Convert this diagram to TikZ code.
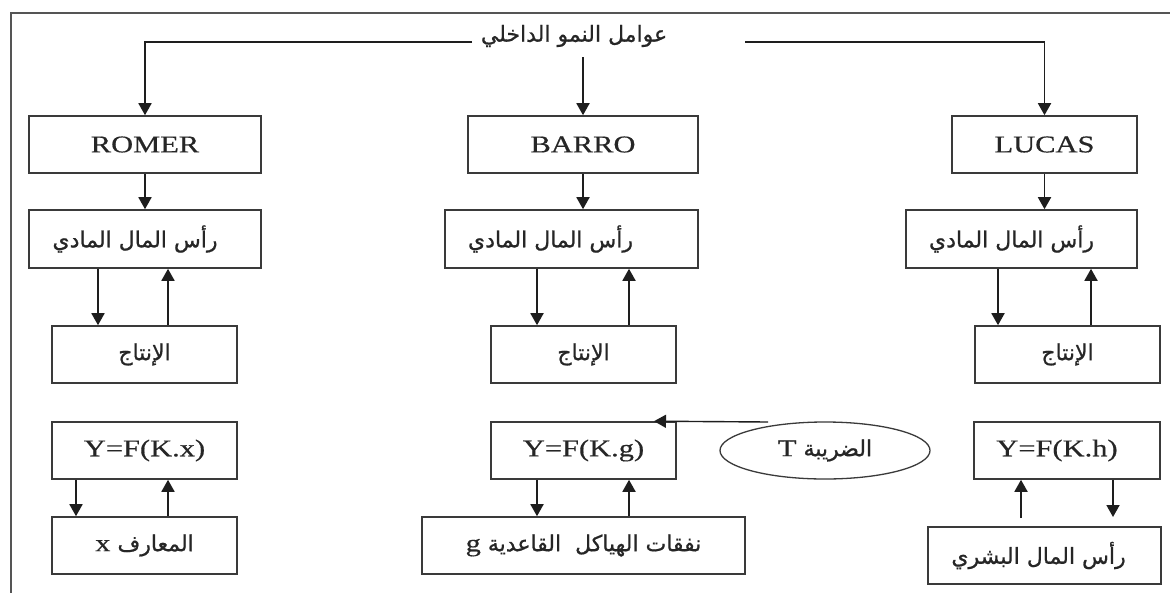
\documentclass[tikz,border=0pt]{standalone}
\usepackage{fontspec}
\usetikzlibrary{arrows.meta,shapes.geometric}
\setmainfont[FakeStretch=1.27]{Liberation Serif}
\newfontfamily\latinfont[FakeStretch=1.27,FakeBold=0.5]{Liberation Serif}
\newfontfamily\arabicfont[Script=Arabic,FakeBold=0.8]{DejaVu Sans}
\TeXXeTstate=1
\newcommand\myLat{\latinfont\fontsize{24}{28}\selectfont}
\newcommand\myAr{\arabicfont\fontsize{22}{26}\selectfont}
\definecolor{linec}{HTML}{1E1E1E}
\definecolor{boxc}{HTML}{3A3A3A}
\definecolor{framec}{HTML}{555555}
\definecolor{txt}{HTML}{262626}
\tikzset{
  box/.style={draw=boxc, line width=1.6pt, minimum height=57pt, inner sep=0pt, text=txt},
  arr/.style={draw=linec, line width=1.8pt, -{Triangle[length=12pt,width=13pt]}},
  lat/.style={font=\myLat},
  ar/.style={font=\myAr},
}
\begin{document}
\begin{tikzpicture}[x=1pt,y=-1pt]
\useasboundingbox (0,0) rectangle (1170,592);
\fill[white] (0,0) rectangle (1170,592);
% frame
\draw[draw=framec, line width=1.4pt] (1172,13) -- (11,13) -- (11,594);

% title
\node[ar, text=txt, inner sep=0pt] (title) at (574,36) {\beginR عوامل النمو الداخلي\endR};
\coordinate (tl) at (472,42);
\coordinate (tr) at (745,42);
\coordinate (tm) at (583,57);

% level 1
\node[box, lat, minimum width=232pt] (romer) at (145,144.5) {ROMER};
\node[box, lat, minimum width=230pt] (barro) at (583,144.5) {BARRO};
\node[box, lat, minimum width=185pt] (lucas) at (1044.5,144.5) {LUCAS};

\draw[arr] (tl) -| (romer.north);
\draw[arr] (tr) -| (lucas.north);
\draw[arr] (tm) -- (barro.north);

% level 2: physical capital
\node[box, ar, minimum width=232pt, minimum height=58pt] (cap1) at (145,239) {\beginR رأس المال المادي\endR\hspace*{20pt}};
\node[box, ar, minimum width=253pt, minimum height=58pt] (cap2) at (571.5,239) {\beginR رأس المال المادي\endR\hspace*{42pt}};
\node[box, ar, minimum width=231pt, minimum height=58pt] (cap3) at (1021.5,239) {\beginR رأس المال المادي\endR\hspace*{20pt}};

\draw[arr] (romer) -- (cap1);
\draw[arr] (barro) -- (barro.south |- cap2.north);
\draw[arr] (lucas) -- (lucas.south |- cap3.north);

% level 3: production
\node[box, ar, minimum width=185pt] (prod1) at (144.5,354.5) {\beginR الإنتاج\endR};
\node[box, ar, minimum width=185pt] (prod2) at (583.5,354.5) {\beginR الإنتاج\endR};
\node[box, ar, minimum width=185pt] (prod3) at (1067.5,354.5) {\beginR الإنتاج\endR};

\coordinate (xa) at (98,0);   \coordinate (xb) at (168,0);
\coordinate (xc) at (537,0);  \coordinate (xd) at (629,0);
\coordinate (xe) at (998,0);  \coordinate (xf) at (1091,0);
\draw[arr] (xa |- cap1.south) -- (xa |- prod1.north);
\draw[arr] (xb |- prod1.north) -- (xb |- cap1.south);
\draw[arr] (xc |- cap2.south) -- (xc |- prod2.north);
\draw[arr] (xd |- prod2.north) -- (xd |- cap2.south);
\draw[arr] (xe |- cap3.south) -- (xe |- prod3.north);
\draw[arr] (xf |- prod3.north) -- (xf |- cap3.south);

% level 4: production functions
\node[box, lat, minimum width=185pt] (y1) at (144.5,450.5) {Y=F(K.x)};
\node[box, lat, minimum width=185pt] (y2) at (583.5,450.5) {Y=F(K.g)};
\node[box, lat, minimum width=186pt] (y3) at (1067,450.5) {Y=F(K.h)\hspace*{20pt}};
\node[draw=boxc, line width=1.3pt, ellipse, minimum width=210pt, minimum height=57pt, inner sep=0pt, ar, text=txt] (tax) at (825,450.5) {\beginR الضريبة {\myLat T}\endR};

\coordinate (ts) at (768,422);
\coordinate (xt) at (654,0);
\draw[draw=linec, line width=1.4pt, -{Triangle[length=12pt,width=13pt]}] (ts) -- (xt |- y2.north);

% level 5
\node[box, ar, minimum width=185pt] (k1) at (144.5,545.5) {\beginR المعارف {\myLat x}\endR};
\node[box, ar, minimum width=323pt] (g) at (583.5,545.5) {\beginR نفقات الهياكل\ \ القاعدية {\myLat g}\endR};
\node[box, ar, minimum width=233pt] (h) at (1044.5,555.5) {\beginR رأس المال البشري\endR\hspace*{12pt}};

\coordinate (xg) at (76,0);   \coordinate (xh) at (168,0);
\coordinate (xi) at (537,0);  \coordinate (xj) at (629,0);
\coordinate (xk) at (1021,0); \coordinate (xl) at (1113,0);
\coordinate (hu) at (1021,518);
\coordinate (hd) at (1113,517);
\draw[arr] (xg |- y1.south) -- (xg |- k1.north);
\draw[arr] (xh |- k1.north) -- (xh |- y1.south);
\draw[arr] (xi |- y2.south) -- (xi |- g.north);
\draw[arr] (xj |- g.north) -- (xj |- y2.south);
\draw[arr] (hu) -- (xk |- y3.south);
\draw[arr] (xl |- y3.south) -- (hd);
\end{tikzpicture}
\end{document}
